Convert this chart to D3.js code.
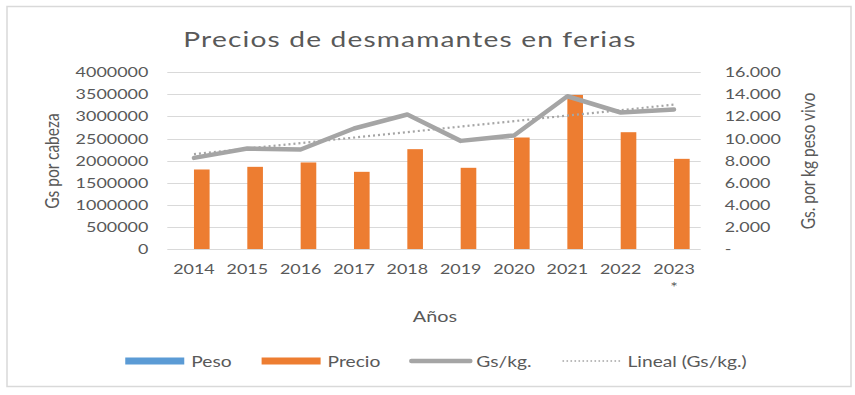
<!DOCTYPE html>
<html>
<head>
<meta charset="utf-8">
<script src="https://cdn.jsdelivr.net/npm/d3@7"></script>
<style>
  html, body { margin: 0; padding: 0; background: #fff; }
  svg { display: block; font-family: Lato, "Open Sans", sans-serif; }
</style>
</head>
<body>
<svg id="chart" width="855" height="395"></svg>
<script>
// Datos
var years = ['2014', '2015', '2016', '2017', '2018', '2019', '2020', '2021', '2022', '2023'];
var yearLabels = ['2014', '2015', '2016', '2017', '2018', '2019', '2020', '2021', '2022', '2023\n*'];
var peso = [218, 204, 217, 160, 186, 188, 246, 252, 214, 162];           // kg, invisible a esta escala
var precio = [1800000, 1860000, 1959000, 1747000, 2260000, 1838000, 2524000, 3487000, 2644000, 2041000];
var gsKg = [8250, 9100, 9010, 10910, 12180, 9790, 10280, 13830, 12360, 12630];
var leftTicks = [0, 500000, 1000000, 1500000, 2000000, 2500000, 3000000, 3500000, 4000000];
var rightTicks = [0, 2000, 4000, 6000, 8000, 10000, 12000, 14000, 16000];

(function () {
    'use strict';

    var K = 1.28;              // el original está estirado en horizontal
    var TXT = '#595959';
    var GRID = '#d9d9d9';
    var plot = { left: 167.3, right: 700.7, top: 72.3, bottom: 249 };

    var svg = d3.select('#chart');

    // marco exterior
    svg.append('rect')
        .attr('x', 7).attr('y', 6.5)
        .attr('width', 844).attr('height', 380)
        .attr('fill', '#fff')
        .attr('stroke', GRID)
        .attr('stroke-width', 1.5);

    /**
     * Texto con el estiramiento horizontal del original.
     */
    function label(g, x, y, str, size, anchor, rotate) {
        return g.append('text')
            .attr('transform', 'translate(' + x + ',' + y + ') scale(' + K + ',1)' + (rotate ? ' rotate(' + rotate + ')' : ''))
            .attr('text-anchor', anchor || 'middle')
            .attr('font-size', size + 'px')
            .attr('fill', TXT)
            .text(str);
    }

    var x = d3.scaleBand().domain(years).range([plot.left, plot.right]);
    var barW = x.bandwidth() * 0.293;
    var xs = d3.scaleBand().domain(['Peso', 'Precio'])
        .range([x.bandwidth() / 2 - barW, x.bandwidth() / 2 + barW]);
    var yL = d3.scaleLinear().domain([0, 4000000]).range([plot.bottom, plot.top]);
    var yR = d3.scaleLinear().domain([0, 16000]).range([plot.bottom, plot.top]);

    var es = d3.formatLocale({ decimal: ',', thousands: '.', grouping: [3], currency: ['', ''] });
    var fmtR = es.format(',d');

    // líneas de cuadrícula
    svg.append('g').selectAll('line')
        .data(leftTicks)
        .enter().append('line')
        .attr('x1', plot.left).attr('x2', plot.right)
        .attr('y1', function (d) { return Math.round(yL(d)) + 0.5; })
        .attr('y2', function (d) { return Math.round(yL(d)) + 0.5; })
        .attr('stroke', GRID)
        .attr('stroke-width', 1.2);

    // eje izquierdo
    var axL = svg.append('g')
        .attr('transform', 'translate(' + plot.left + ',0)')
        .call(d3.axisLeft(yL).tickValues(leftTicks).tickSize(0).tickPadding(19).tickFormat(d3.format('d')));
    axL.select('.domain').remove();
    axL.selectAll('text')
        .attr('x', -19 / K)
        .attr('transform', 'scale(' + K + ',1)')
        .attr('font-size', '14px')
        .attr('font-family', 'Lato')
        .attr('fill', TXT);

    // eje derecho
    var axR = svg.append('g')
        .attr('transform', 'translate(' + plot.right + ',0)')
        .call(d3.axisRight(yR).tickValues(rightTicks).tickSize(0).tickPadding(25)
            .tickFormat(function (d) { return d === 0 ? '-' : fmtR(d); }));
    axR.select('.domain').remove();
    axR.selectAll('text')
        .attr('x', 24 / K)
        .attr('transform', 'scale(' + K + ',1)')
        .attr('font-size', '14px')
        .attr('font-family', 'Lato')
        .attr('fill', TXT);

    // eje de categorías
    var axX = svg.append('g')
        .attr('transform', 'translate(0,' + plot.bottom + ')')
        .call(d3.axisBottom(x).tickSize(0).tickPadding(15).tickFormat(function () { return ''; }));
    axX.select('.domain').remove();
    axX.selectAll('.tick').each(function (d, i) {
        var t = d3.select(this).select('text')
            .attr('transform', 'scale(' + K + ',1)')
            .attr('font-size', '14px')
            .attr('font-family', 'Lato')
            .attr('fill', TXT);
        yearLabels[i].split('\n').forEach(function (s, j) {
            t.append('tspan').attr('x', 0).attr('dy', j === 0 ? '0.71em' : '1.3em').text(s);
        });
    });

    // barras
    var bars = svg.append('g');
    [['Peso', peso, '#5b9bd5'], ['Precio', precio, '#ed7d31']].forEach(function (s) {
        bars.selectAll('rect.b-' + s[0])
            .data(s[1])
            .enter().append('rect')
            .attr('class', 'b-' + s[0])
            .attr('x', function (d, i) { return x(years[i]) + xs(s[0]); })
            .attr('width', xs.bandwidth())
            .attr('y', function (d) { return yL(d); })
            .attr('height', function (d) { return plot.bottom - yL(d); })
            .attr('fill', s[2]);
    });

    var cx = function (i) { return x(years[i]) + x.bandwidth() / 2; };

    // línea Gs/kg
    svg.append('path')
        .datum(gsKg)
        .attr('d', d3.line().x(function (d, i) { return cx(i); }).y(function (d) { return yR(d); }))
        .attr('fill', 'none')
        .attr('stroke', '#a5a5a5')
        .attr('stroke-width', 4.5)
        .attr('stroke-linejoin', 'round')
        .attr('stroke-linecap', 'round');

    // tendencia lineal (mínimos cuadrados sobre Gs/kg)
    var n = gsKg.length;
    var mx = (n + 1) / 2, my = d3.mean(gsKg);
    var sxy = d3.sum(gsKg, function (d, i) { return (i + 1 - mx) * (d - my); });
    var sxx = d3.sum(gsKg, function (d, i) { return (i + 1 - mx) * (i + 1 - mx); });
    var slope = sxy / sxx, icpt = my - slope * mx;
    svg.append('line')
        .attr('x1', cx(0)).attr('y1', yR(icpt + slope))
        .attr('x2', cx(n - 1)).attr('y2', yR(icpt + slope * n))
        .attr('stroke', '#a5a5a5')
        .attr('stroke-width', 2.2)
        .attr('stroke-dasharray', '2 3');

    // títulos
    label(svg, 410, 47, 'Precios de desmamantes en ferias', 22)
        .attr('letter-spacing', '0.9px');
    label(svg, 435, 322, 'Años', 15.5);
    label(svg, 59, 161, 'Gs por cabeza', 15.5, 'middle', -90);
    label(svg, 815, 161, 'Gs. por kg peso vivo', 15.5, 'middle', -90);

    // leyenda
    var items = [
        { name: 'Peso', type: 'rect', color: '#5b9bd5' },
        { name: 'Precio', type: 'rect', color: '#ed7d31' },
        { name: 'Gs/kg.', type: 'line', color: '#a5a5a5' },
        { name: 'Lineal (Gs/kg.)', type: 'dot', color: '#a5a5a5' }
    ];
    var lg = svg.append('g');
    var ly = 361, pos = 0;
    items.forEach(function (it) {
        var g = lg.append('g').attr('transform', 'translate(' + pos + ',0)');
        if (it.type === 'rect') {
            g.append('rect').attr('x', 0).attr('y', ly - 3.5).attr('width', 59).attr('height', 7).attr('fill', it.color);
        } else {
            g.append('line').attr('x1', 1).attr('x2', 60).attr('y1', ly).attr('y2', ly)
                .attr('stroke', it.color)
                .attr('stroke-width', it.type === 'line' ? 4.5 : 1.6)
                .attr('stroke-linecap', it.type === 'line' ? 'round' : 'butt')
                .attr('stroke-dasharray', it.type === 'dot' ? '1.6 2.4' : null);
        }
        var t = label(g, 66, ly + 5.5, it.name, 15, 'start');
        pos += 66 + t.node().getComputedTextLength() * K + 30;
    });
    var lw = pos - 30;
    lg.attr('transform', 'translate(' + (436 - lw / 2) + ',0)');
})();
</script>
</body>
</html>
